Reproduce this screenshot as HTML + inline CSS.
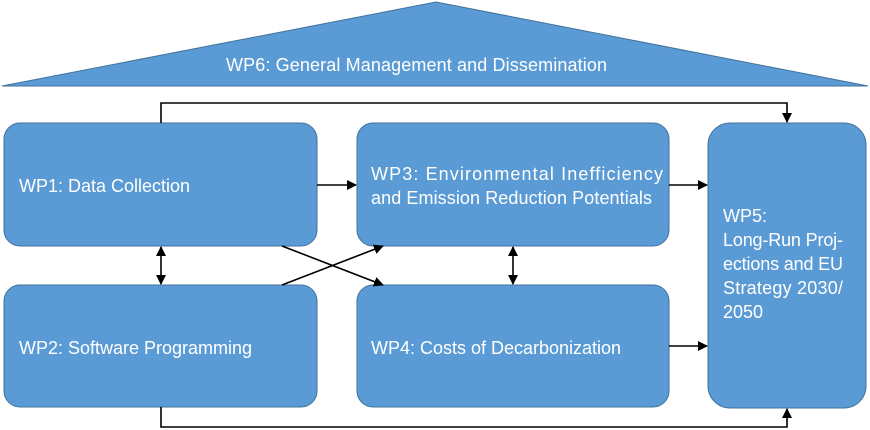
<!DOCTYPE html>
<html><head><style>body{margin:0;background:#fff}svg{display:block}text{font-family:"Liberation Sans",sans-serif;font-size:18px;fill:#fff}</style></head><body>
<svg width="870" height="430" viewBox="0 0 870 430">
<defs><marker id="a" markerWidth="10" markerHeight="10" refX="9" refY="5" orient="auto-start-reverse" markerUnits="userSpaceOnUse"><path d="M0,0 L10,5 L0,10z" fill="#000"/></marker></defs>
<g fill="#5b9bd5" stroke="#41719c" stroke-width="1">
<polygon points="2,86 436,2 868,86"/>
<rect x="4" y="123" width="313" height="123" rx="16"/>
<rect x="4" y="285" width="313" height="122" rx="16"/>
<rect x="357" y="123" width="312" height="123" rx="16"/>
<rect x="357" y="285" width="312" height="122" rx="16"/>
<rect x="708" y="123" width="158" height="285" rx="22"/>
</g>
<g stroke="#000" stroke-width="1.6" fill="none">
<polyline points="161,123 161,103 787,103 787,122" marker-end="url(#a)"/>
<polyline points="161,407 161,427 787,427 787,409" marker-end="url(#a)"/>
<line x1="317" y1="185" x2="356" y2="185" marker-end="url(#a)"/>
<line x1="669" y1="185" x2="707" y2="185" marker-end="url(#a)"/>
<line x1="669" y1="346" x2="707" y2="346" marker-end="url(#a)"/>
<line x1="161" y1="247" x2="161" y2="284" marker-start="url(#a)" marker-end="url(#a)"/>
<line x1="513" y1="247" x2="513" y2="284" marker-start="url(#a)" marker-end="url(#a)"/>
<line x1="282" y1="246" x2="383" y2="285" marker-end="url(#a)"/>
<line x1="282" y1="285" x2="383" y2="246" marker-end="url(#a)"/>
</g>
<text x="226" y="71" textLength="381">WP6: General Management and Dissemination</text>
<text x="19" y="192" textLength="171">WP1: Data Collection</text>
<text x="19" y="354" textLength="233">WP2: Software Programming</text>
<text x="371" y="180" textLength="292">WP3: Environmental Inefficiency</text>
<text x="371" y="204" textLength="281">and Emission Reduction Potentials</text>
<text x="371" y="354" textLength="250">WP4: Costs of Decarbonization</text>
<g style="font-size:17.5px">
<text x="723" y="222">WP5:</text>
<text x="723" y="246" textLength="120">Long-Run Proj-</text>
<text x="723" y="270" textLength="120">ections and EU</text>
<text x="723" y="294" textLength="120">Strategy 2030/</text>
<text x="723" y="318">2050</text>
</g>
</svg>
</body></html>
